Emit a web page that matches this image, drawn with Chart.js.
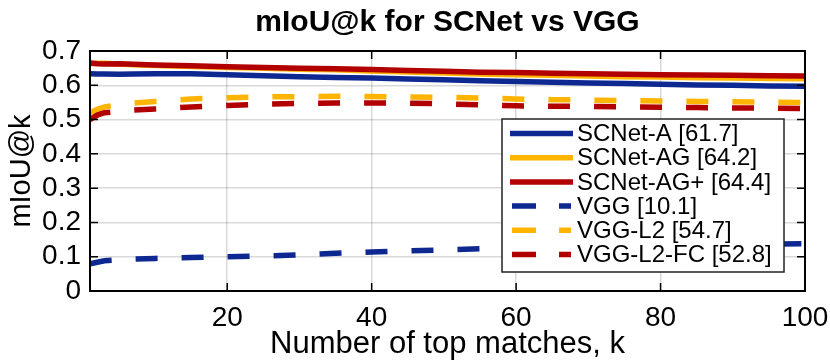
<!DOCTYPE html>
<html>
<head>
<meta charset="utf-8">
<title>mIoU@k for SCNet vs VGG</title>
<script src="https://cdn.jsdelivr.net/npm/chart.js@4/dist/chart.umd.min.js"></script>
<style>
  html, body { margin: 0; padding: 0; background: #fff; }
  #wrap { width: 830px; height: 360px; }
</style>
</head>
<body>
<div id="wrap"><canvas id="chart" width="830" height="360"></canvas></div>
<script>
const kValues = [1, 2, 3, 5, 7, 10, 15, 20, 25, 30, 35, 40, 45, 50, 55, 60, 65, 70, 75, 80, 85, 90, 95, 100];

const scnetA    = [0.634, 0.633, 0.633, 0.632, 0.633, 0.634, 0.634, 0.631, 0.628, 0.625, 0.623, 0.621, 0.618, 0.616, 0.613, 0.611, 0.609, 0.607, 0.605, 0.603, 0.601, 0.600, 0.598, 0.597];
const scnetAG   = [0.663, 0.664, 0.664, 0.662, 0.660, 0.658, 0.655, 0.652, 0.650, 0.647, 0.645, 0.642, 0.639, 0.636, 0.633, 0.631, 0.629, 0.627, 0.625, 0.624, 0.622, 0.621, 0.620, 0.619];
const scnetAGp  = [0.665, 0.663, 0.662, 0.663, 0.661, 0.659, 0.657, 0.654, 0.652, 0.650, 0.648, 0.646, 0.643, 0.641, 0.638, 0.637, 0.635, 0.634, 0.632, 0.631, 0.630, 0.629, 0.628, 0.627];
const vgg       = [0.079, 0.084, 0.088, 0.091, 0.093, 0.095, 0.098, 0.100, 0.102, 0.105, 0.110, 0.114, 0.117, 0.120, 0.123, 0.125, 0.127, 0.129, 0.131, 0.132, 0.134, 0.135, 0.137, 0.138];
const vggL2     = [0.520, 0.530, 0.537, 0.543, 0.548, 0.553, 0.560, 0.564, 0.566, 0.567, 0.568, 0.567, 0.566, 0.565, 0.563, 0.560, 0.558, 0.557, 0.555, 0.554, 0.553, 0.552, 0.551, 0.550];
const vggL2FC   = [0.500, 0.513, 0.520, 0.524, 0.528, 0.531, 0.537, 0.541, 0.545, 0.547, 0.548, 0.548, 0.548, 0.546, 0.543, 0.540, 0.539, 0.538, 0.537, 0.536, 0.535, 0.534, 0.533, 0.532];

const seriesNames = ['SCNet-A [61.7]', 'SCNet-AG [64.2]', 'SCNet-AG+ [64.4]', 'VGG [10.1]', 'VGG-L2 [54.7]', 'VGG-L2-FC [52.8]'];
const seriesValues = [scnetA, scnetAG, scnetAGp, vgg, vggL2, vggL2FC];

const xTicks = [20, 40, 60, 80, 100];
const yTicks = [0, 0.1, 0.2, 0.3, 0.4, 0.5, 0.6, 0.7];
const yTickLabels = ['0', '0.1', '0.2', '0.3', '0.4', '0.5', '0.6', '0.7'];
const chartTitle = 'mIoU@k for SCNet vs VGG';

// styles
const BLUE = 'rgb(14, 40, 146)';
const YELLOW = 'rgb(255, 180, 0)';
const RED = 'rgb(178, 0, 0)';
const seriesColors = [BLUE, YELLOW, RED, BLUE, YELLOW, RED];
const seriesDashed = [false, false, false, true, true, true];
const FONT = '"Liberation Sans", Arial, Helvetica, sans-serif';

const datasets = seriesNames.map((name, i) => ({
    label: name,
    data: kValues.map((k, j) => ({ x: k, y: seriesValues[i][j] })),
    borderColor: seriesColors[i],
    backgroundColor: seriesColors[i],
    borderWidth: 5.5,
    borderDash: seriesDashed[i] ? [22, 24] : [],
    borderCapStyle: 'butt',
    pointRadius: 0,
    tension: 0,
    fill: false,
    order: seriesNames.length - 1 - i // later series drawn on top, like MATLAB
}));

// box around the axes + inward tick marks + title centred over the axes
const boxPlugin = {
    id: 'boxPlugin',
    afterDatasetsDraw(chart) {
        const ctx = chart.ctx;
        const a = chart.chartArea;
        const xs = chart.scales.x, ys = chart.scales.y;
        ctx.save();
        ctx.strokeStyle = '#000';
        ctx.lineWidth = 1.5;
        xTicks.forEach(v => {
            const px = xs.getPixelForValue(v);
            ctx.beginPath();
            ctx.moveTo(px, a.bottom); ctx.lineTo(px, a.bottom - 8);
            ctx.moveTo(px, a.top); ctx.lineTo(px, a.top + 8);
            ctx.stroke();
        });
        yTicks.forEach(v => {
            const py = ys.getPixelForValue(v);
            ctx.beginPath();
            ctx.moveTo(a.left, py); ctx.lineTo(a.left + 8, py);
            ctx.moveTo(a.right, py); ctx.lineTo(a.right - 8, py);
            ctx.stroke();
        });
        ctx.lineWidth = 2;
        ctx.strokeRect(a.left, a.top, a.right - a.left, a.bottom - a.top);

        ctx.fillStyle = '#000';
        ctx.font = 'bold 30px ' + FONT;
        ctx.textAlign = 'center';
        ctx.textBaseline = 'middle';
        ctx.fillText(chartTitle, (a.left + a.right) / 2, 23);
        ctx.restore();
    }
};

// MATLAB-style legend box
const legendPlugin = {
    id: 'matLegend',
    afterDraw(chart) {
        const ctx = chart.ctx;
        const bx = 502, by = 119, bw = 282, bh = 153;
        ctx.save();
        ctx.fillStyle = '#fff';
        ctx.fillRect(bx, by, bw, bh);
        ctx.strokeStyle = '#222';
        ctx.lineWidth = 1.5;
        ctx.strokeRect(bx, by, bw, bh);
        ctx.font = '24px ' + FONT;
        ctx.textBaseline = 'middle';
        ctx.fillStyle = '#000';
        seriesNames.forEach((name, i) => {
            const y = by + 14.5 + i * 24.2;
            ctx.strokeStyle = seriesColors[i];
            ctx.lineWidth = 5.5;
            ctx.beginPath();
            if (seriesDashed[i]) {
                ctx.moveTo(512, y); ctx.lineTo(536, y);
                ctx.moveTo(559, y); ctx.lineTo(571, y);
            } else {
                ctx.moveTo(510, y); ctx.lineTo(573, y);
            }
            ctx.stroke();
            ctx.fillText(name, 577, y + 1);
        });
        ctx.restore();
    }
};

new Chart(document.getElementById('chart'), {
    type: 'line',
    data: { datasets: datasets },
    options: {
        responsive: false,
        animation: false,
        layout: { padding: { left: 0, right: 25, top: 51, bottom: 0 } },
        plugins: {
            legend: { display: false },
            tooltip: { enabled: false },
            title: { display: false }
        },
        scales: {
            x: {
                type: 'linear',
                min: 1,
                max: 100,
                afterBuildTicks: s => { s.ticks = xTicks.map(v => ({ value: v })); },
                afterFit: s => { s.height = 69; s.paddingLeft = 0; s.paddingRight = 0; },
                grid: { color: 'rgba(0,0,0,0.15)', lineWidth: 1.5, drawTicks: false },
                border: { display: false },
                ticks: {
                    color: '#000',
                    font: { family: FONT, size: 28 },
                    padding: 10,
                    maxRotation: 0,
                    autoSkip: false
                },
                title: {
                    display: true,
                    text: 'Number of top matches, k',
                    color: '#000',
                    font: { family: FONT, size: 31 },
                    padding: { top: 0, bottom: -3 }
                }
            },
            y: {
                min: 0,
                max: 0.7,
                afterBuildTicks: s => { s.ticks = yTicks.map(v => ({ value: v })); },
                afterFit: s => { s.width = 90; s.paddingTop = 0; s.paddingBottom = 0; },
                grid: { color: 'rgba(0,0,0,0.15)', lineWidth: 1.5, drawTicks: false },
                border: { display: false },
                ticks: {
                    color: '#000',
                    font: { family: FONT, size: 28 },
                    padding: 9,
                    autoSkip: false,
                    callback: (v, idx) => yTickLabels[idx]
                },
                title: {
                    display: true,
                    text: 'mIoU@k',
                    color: '#000',
                    font: { family: FONT, size: 29 },
                    padding: { top: 5, bottom: 0 }
                }
            }
        }
    },
    plugins: [boxPlugin, legendPlugin]
});
</script>
</body>
</html>
